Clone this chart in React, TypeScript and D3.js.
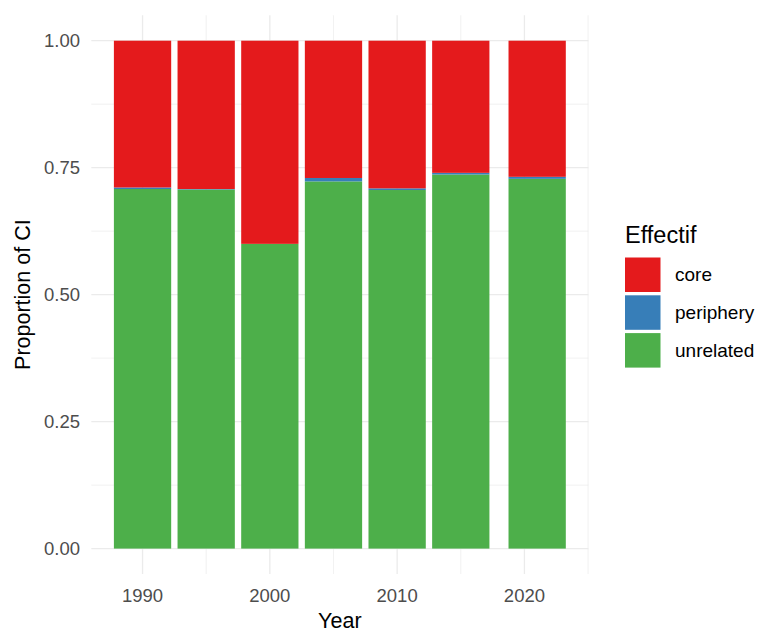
import React from "react";
import * as d3 from "d3";

const years = [1990, 1995, 2000, 2005, 2010, 2015, 2021];
const unrelated = [0.708, 0.707, 0.6, 0.723, 0.706, 0.7365, 0.728];
const periphery = [0.003, 0.001, 0.0, 0.0067, 0.0033, 0.0033, 0.004];
const categories = ["core", "periphery", "unrelated"];
const colors = ["#E41A1C", "#377EB8", "#4DAF4A"];
const yTicks = [0, 0.25, 0.5, 0.75, 1];
const yMinor = [0.125, 0.375, 0.625, 0.875];
const xTicks = [1990, 2000, 2010, 2020];
const xMinor = [1995, 2005, 2015, 2025];

export default function App() {
  const W = 763, H = 634;
  const left = 91.3, right = 588.4, top = 15.3, bottom = 574;
  const barW = 4.5;
  const xmin = d3.min(years)! - barW / 2, xmax = d3.max(years)! + barW / 2;
  const xpad = (xmax - xmin) * 0.05;
  const x = d3.scaleLinear().domain([xmin - xpad, xmax + xpad]).range([left, right]);
  const y = d3.scaleLinear().domain([-0.05, 1.05]).range([bottom, top]);
  const font = "Liberation Sans, Arial, sans-serif";

  const rows = years.map((yr, i) => {
    const u = unrelated[i];
    const p = periphery[i];
    return {
      yr,
      segs: [
        { k: 2, y0: 0, y1: u },
        { k: 1, y0: u, y1: u + p },
        { k: 0, y0: u + p, y1: 1 },
      ],
    };
  });

  return (
    <svg width={W} height={H} style={{ position: "absolute", left: 0, top: 0, background: "#fff" }} fontFamily={font}>
      {yMinor.map((t) => (
        <line key={"ym" + t} x1={left} x2={right} y1={y(t)} y2={y(t)} stroke="#EBEBEB" strokeWidth={0.7} />
      ))}
      {xMinor.map((t) => (
        <line key={"xm" + t} x1={x(t)} x2={x(t)} y1={top} y2={bottom} stroke="#EBEBEB" strokeWidth={0.7} />
      ))}
      {yTicks.map((t) => (
        <line key={"yM" + t} x1={left} x2={right} y1={y(t)} y2={y(t)} stroke="#EBEBEB" strokeWidth={1.3} />
      ))}
      {xTicks.map((t) => (
        <line key={"xM" + t} x1={x(t)} x2={x(t)} y1={top} y2={bottom} stroke="#EBEBEB" strokeWidth={1.3} />
      ))}
      {rows.map((r) =>
        r.segs.map((s) =>
          s.y1 - s.y0 > 0 ? (
            <rect
              key={r.yr + "-" + s.k}
              x={x(r.yr - barW / 2)}
              width={x(r.yr + barW / 2) - x(r.yr - barW / 2)}
              y={y(s.y1)}
              height={y(s.y0) - y(s.y1)}
              fill={colors[s.k]}
            />
          ) : null
        )
      )}
      {yTicks.map((t) => (
        <text key={"yl" + t} x={80} y={y(t)} dy="0.35em" textAnchor="end" fontSize={18.5} fill="#4D4D4D">
          {d3.format(".2f")(t)}
        </text>
      ))}
      {xTicks.map((t) => (
        <text key={"xl" + t} x={x(t)} y={596} dy="0.35em" textAnchor="middle" fontSize={18.5} fill="#4D4D4D">
          {t}
        </text>
      ))}
      <text x={(left + right) / 2} y={628} fontSize={21.5} textAnchor="middle" fill="#000">
        Year
      </text>
      <text
        transform={`translate(22,${(top + bottom) / 2}) rotate(-90)`}
        dy="0.35em"
        textAnchor="middle"
        fontSize={21.5}
        fill="#000"
      >
        Proportion of CI
      </text>
      <text x={625} y={235} dy="0.35em" fontSize={23.5} fill="#000">
        Effectif
      </text>
      {categories.map((c, i) => (
        <g key={c}>
          <rect x={625} y={257.5 + i * 37.8} width={35.5} height={34.5} fill={colors[i]} />
          <text x={675} y={274.7 + i * 37.8} dy="0.35em" fontSize={19} fill="#000">
            {c}
          </text>
        </g>
      ))}
    </svg>
  );
}
